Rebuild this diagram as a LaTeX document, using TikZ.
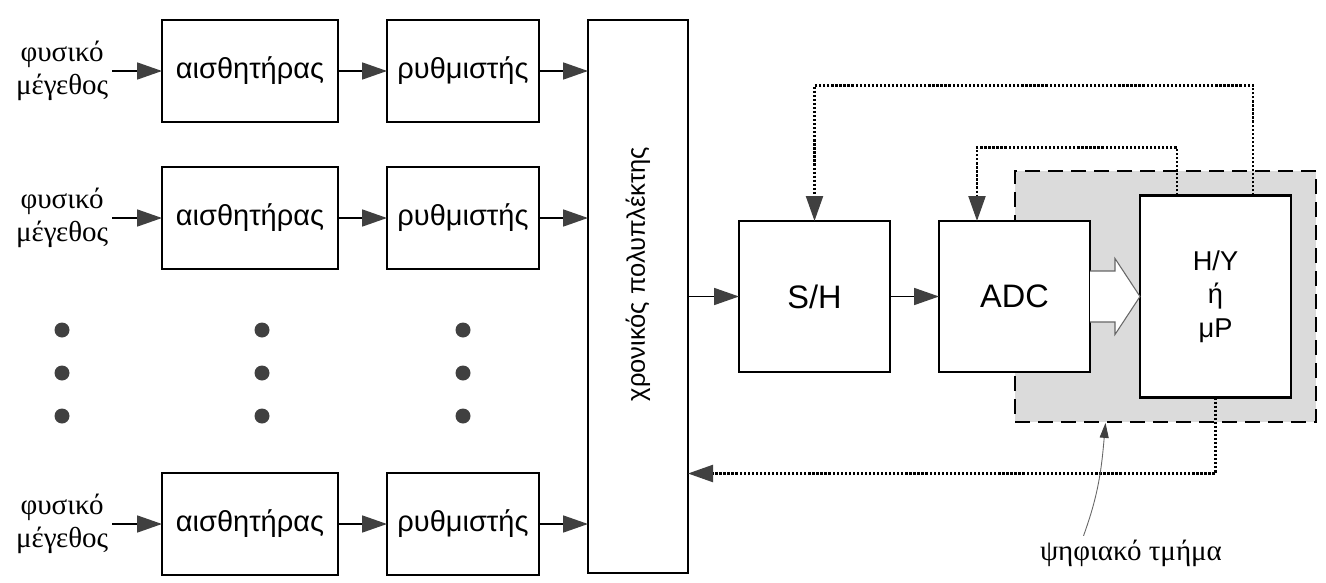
\documentclass[tikz,border=0pt]{standalone}
\usepackage{fontspec}
\setmainfont{Liberation Sans}
\newfontfamily\grserif{Liberation Serif}
\usetikzlibrary{positioning}
\usetikzlibrary{arrows.meta}

\begin{document}
\begin{tikzpicture}[block/.style = {draw, line width=1.3pt, fill=white, inner sep=0pt, outer sep=0pt, font=\fontsize{16.5}{19}\selectfont},
    sensor/.style = {block, minimum width=3.52cm, minimum height=2.04cm},
    reg/.style = {block, minimum width=3.04cm, minimum height=2.04cm},
    conv/.style = {block, minimum width=3.02cm, minimum height=3.02cm, font=\fontsize{18.5}{20}\selectfont},
    qty/.style = {align=center, inner sep=2pt, font=\grserif\fontsize{16.5}{19}\selectfont},
    dot/.style = {circle, fill=black!75, inner sep=0pt, minimum size=0.3cm},
    sig/.style = {line width=1pt, -{Triangle[length=0.5cm, width=0.34cm, color=black!75]}},
    fb/.style = {sig, line width=1.3pt, densely dotted},
    region/.style = {draw, line width=1pt, dash pattern=on 0.3cm off 0.16cm, fill=black!14, minimum width=6.02cm, minimum height=5.02cm}]
    \useasboundingbox (0,0) rectangle (26.52,-11.66);
    % digital part (behind ADC and computer)
    \node[region](dig) at (23.31,-5.93){};
    % input chains
    \node[sensor](s1) at (5.0,-1.42){αισθητήρας};
    \node[reg](r1)[right=0.98cm of s1]{ρυθμιστής};
    \node[qty](q1)[left=1cm of s1]{φυσικό\\μέγεθος};
    \node[sensor](s2) at (5.0,-4.36){αισθητήρας};
    \node[reg](r2)[right=0.98cm of s2]{ρυθμιστής};
    \node[qty](q2)[left=1cm of s2]{φυσικό\\μέγεθος};
    \node[sensor](s3) at (5.0,-10.48){αισθητήρας};
    \node[reg](r3)[right=0.98cm of s3]{ρυθμιστής};
    \node[qty](q3)[left=1cm of s3]{φυσικό\\μέγεθος};
    \foreach \x/\c in {1.24/a, 5.24/b, 9.26/c}
      \foreach \y/\r in {-6.6/1, -7.46/2, -8.32/3}
        \node[dot](d\c\r) at (\x,\y){};
    % multiplexer
    \node[block, minimum width=2cm, minimum height=11.06cm](mux) at (12.76,-5.93){};
    \node[rotate=90, font=\fontsize{14.5}{18}\selectfont](muxlbl) at ([yshift=0.45cm]mux.center){χρονικός πολυπλέκτης};
    \node[conv](sh)[right=1.02cm of mux]{S/H};
    \node[conv](adc)[right=0.98cm of sh]{ADC};
    \node[block, minimum width=3.02cm, minimum height=4.04cm, align=center, font=\fontsize{15.5}{19}\selectfont](hy)[right=1.0cm of adc]{H/Y\\ή\\μP};
    \node[qty](tm) at (22.62,-11.06){ψηφιακό τμήμα};
    \draw[sig] (q1) -- (s1);
    \draw[sig] (s1) -- (r1);
    \draw[sig] (r1) -- (r1 -| mux.west);
    \draw[sig] (q2) -- (s2);
    \draw[sig] (s2) -- (r2);
    \draw[sig] (r2) -- (r2 -| mux.west);
    \draw[sig] (q3) -- (s3);
    \draw[sig] (s3) -- (r3);
    \draw[sig] (r3) -- (r3 -| mux.west);
    \draw[sig] (mux.east |- sh) -- (sh);
    \draw[sig] (sh) -- (adc);
    % data bus
    \draw[black!60, line width=0.6pt, fill=white] ([yshift=0.51cm]adc.east) -- ++(0.5,0) -- ++(0,0.25) -- (hy.west) -- ([shift={(0.5,-0.76)}]adc.east) -- ++(0,0.25) -- ([yshift=-0.51cm]adc.east);
    % control lines
    \draw[fb] ([xshift=0.75cm]hy.north) -- ++(0,2.2) -| (sh.north);
    \draw[fb] ([xshift=-0.77cm]hy.north) -- ++(0,0.96) -| ([xshift=-0.75cm]adc.north);
    \draw[fb] (hy.south) -- ++(0,-1.52) coordinate (sel) -- (sel -| mux.east);
    \draw[black!60, line width=0.5pt, -{Triangle[length=0.3cm, width=0.18cm, color=black!75]}] ([xshift=-0.95cm]tm.north) to[out=70, in=-95] ([xshift=-1.2cm]dig.south);
\end{tikzpicture}
\end{document}
